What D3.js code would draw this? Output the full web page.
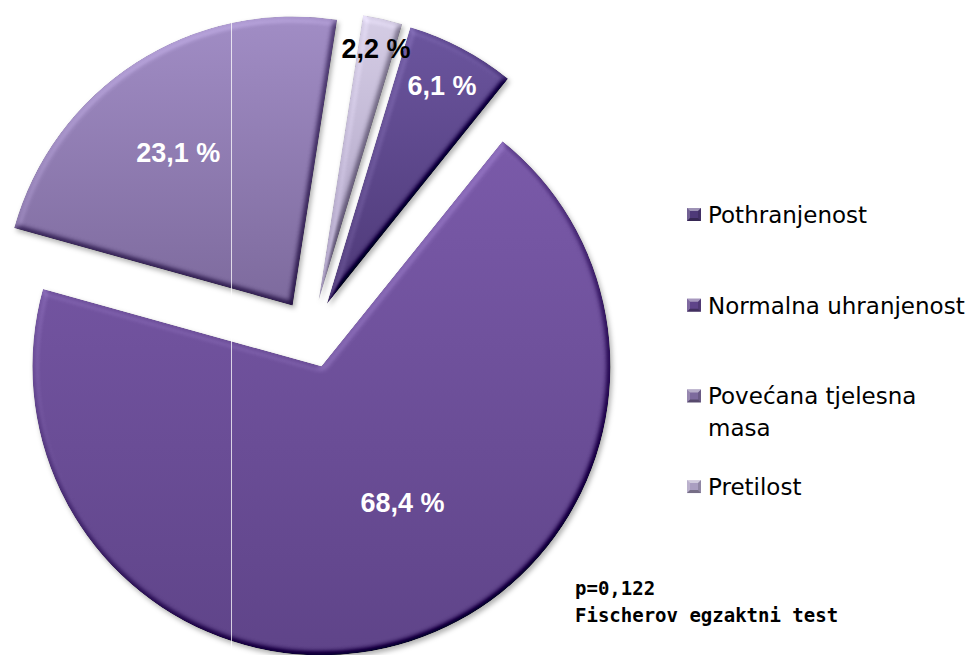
<!DOCTYPE html>
<html>
<head>
<meta charset="utf-8">
<script src="https://cdn.jsdelivr.net/npm/d3@7"></script>
<style>
	html, body {margin: 0; padding: 0; background: #fff;}
	svg {display: block;}
</style>
</head>
<body>
<div id="chart"></div>
<script>

/* data */
var categories = ["Pothranjenost", "Normalna uhranjenost", "Povećana tjelesna masa", "Pretilost"];
var values = [6.1, 68.4, 23.1, 2.2];
var valueLabels = ["6,1 %", "68,4 %", "23,1 %", "2,2 %"];
var noteLines = ["p=0,122", "Fischerov egzaktni test"];

/* looks */
var topColors = ["#6b559e", "#7a5aa9", "#a18dc5", "#d5cde5"];
var bottomColors = ["#4e3978", "#5f4489", "#7d6a9d", "#aa9ec1"];
var labelColors = ["#fff", "#fff", "#fff", "#000"];

var w = 972, h = 655;
var cx = 311, cy = 334, radius = 289, explode = 34;
var startDeg = 16.8;

var svg = d3.select("#chart")
	.append("svg")
	.attr("width", w)
	.attr("height", h);

var defs = svg.append("defs");

// soft bevel + shadow, a rough copy of the office "soft round" look
var bevel = defs.append("filter")
	.attr("id", "bevel")
	.attr("x", "-10%").attr("y", "-10%")
	.attr("width", "125%").attr("height", "125%")
	.attr("color-interpolation-filters", "sRGB");
bevel.append("feGaussianBlur")
	.attr("in", "SourceAlpha").attr("stdDeviation", 3).attr("result", "blur");
bevel.append("feDiffuseLighting")
	.attr("in", "blur").attr("surfaceScale", 5).attr("diffuseConstant", 1)
	.attr("lighting-color", "#fff").attr("result", "light")
	.append("feDistantLight").attr("azimuth", 235).attr("elevation", 55);
bevel.append("feComposite")
	.attr("in", "SourceGraphic").attr("in2", "light").attr("operator", "arithmetic")
	.attr("k1", 0).attr("k2", 1).attr("k3", 0.5).attr("k4", -0.41).attr("result", "lit");
bevel.append("feComposite")
	.attr("in", "lit").attr("in2", "SourceAlpha").attr("operator", "in").attr("result", "litIn");
bevel.append("feGaussianBlur")
	.attr("in", "SourceAlpha").attr("stdDeviation", 2.5).attr("result", "sb");
bevel.append("feOffset")
	.attr("in", "sb").attr("dx", 2).attr("dy", 3).attr("result", "so");
bevel.append("feFlood")
	.attr("flood-color", "#000").attr("flood-opacity", 0.3).attr("result", "sc");
bevel.append("feComposite")
	.attr("in", "sc").attr("in2", "so").attr("operator", "in").attr("result", "shadow");
var merge = bevel.append("feMerge");
merge.append("feMergeNode").attr("in", "shadow");
merge.append("feMergeNode").attr("in", "litIn");

categories.forEach(function(c, i){
	var g = defs.append("linearGradient")
		.attr("id", "grad" + i)
		.attr("x1", 0).attr("y1", 0).attr("x2", 0).attr("y2", 1);
	g.append("stop").attr("offset", "0%").attr("stop-color", topColors[i]);
	g.append("stop").attr("offset", "100%").attr("stop-color", bottomColors[i]);
});

var rad = Math.PI / 180;
var pie = d3.pie()
	.sort(null)
	.value(function(d){ return d.value; })
	.startAngle(startDeg * rad)
	.endAngle(startDeg * rad + 2 * Math.PI);

var arc = d3.arc().innerRadius(0).outerRadius(radius);

var slices = pie(categories.map(function(c, i){
	return {name: c, value: values[i], label: valueLabels[i], idx: i};
}));

var offsetOf = function(d){
	var a = (d.startAngle + d.endAngle) / 2;
	return [explode * Math.sin(a), -explode * Math.cos(a)];
};

var pieG = svg.append("g")
	.attr("transform", "translate(" + cx + "," + cy + ")");

pieG.selectAll("path")
	.data(slices)
	.enter()
	.append("path")
	.attr("d", arc)
	.attr("transform", function(d){ return "translate(" + offsetOf(d).join(",") + ")"; })
	.attr("fill", function(d){ return "url(#grad" + d.data.idx + ")"; })
	.attr("filter", "url(#bevel)");

// where office put each label: fraction of radius and angle nudge
var labelPlace = [{f: 0.855, da: 0}, {f: 0.547, da: -13}, {f: 0.66, da: -4}, {f: 0.896, da: 0}];
var labelSize = 27;

pieG.selectAll("text.val")
	.data(slices)
	.enter()
	.append("text")
	.attr("class", "val")
	.attr("x", function(d){
		var p = labelPlace[d.data.idx];
		var a = (d.startAngle + d.endAngle) / 2 + p.da * rad;
		return offsetOf(d)[0] + p.f * radius * Math.sin(a);
	})
	.attr("y", function(d){
		var p = labelPlace[d.data.idx];
		var a = (d.startAngle + d.endAngle) / 2 + p.da * rad;
		return offsetOf(d)[1] - p.f * radius * Math.cos(a) + labelSize * 0.36;
	})
	.attr("text-anchor", "middle")
	.attr("font-family", "'Liberation Sans', Arial, sans-serif")
	.attr("font-weight", "bold")
	.attr("font-size", labelSize)
	.attr("fill", function(d){ return labelColors[d.data.idx]; })
	.text(function(d){ return d.data.label; });

// thin white scan line that runs through the original picture
svg.append("line")
	.attr("x1", 231.5).attr("x2", 231.5)
	.attr("y1", 0).attr("y2", h)
	.attr("stroke", "#fff")
	.attr("stroke-opacity", 0.75)
	.attr("stroke-width", 1);

/* legend */
var legX = 687, legTextX = 708, legTop = 223, legStep = 90.7, legWrap = 262, lineH = 32;
var legend = svg.append("g");

categories.forEach(function(c, i){
	var base = legTop + i * legStep;
	var mx = legX, my = base - 15, ms = 14, mh = 13, b = 3;
	var mk = legend.append("g");
	mk.append("rect")
		.attr("x", mx).attr("y", my).attr("width", ms).attr("height", mh)
		.attr("fill", bottomColors[i]);
	// little bevel faces on the marker
	var faces = [
		{pts: [[mx, my], [mx + ms, my], [mx + ms - b, my + b], [mx + b, my + b]], c: "rgba(255,255,255,0.45)"},
		{pts: [[mx, my], [mx + b, my + b], [mx + b, my + mh - b], [mx, my + mh]], c: "rgba(255,255,255,0.2)"},
		{pts: [[mx + ms, my], [mx + ms, my + mh], [mx + ms - b, my + mh - b], [mx + ms - b, my + b]], c: "rgba(0,0,0,0.15)"},
		{pts: [[mx, my + mh], [mx + b, my + mh - b], [mx + ms - b, my + mh - b], [mx + ms, my + mh]], c: "rgba(0,0,0,0.3)"}
	];
	mk.selectAll("polygon")
		.data(faces)
		.enter()
		.append("polygon")
		.attr("points", function(d){ return d.pts.map(function(p){ return p.join(","); }).join(" "); })
		.attr("fill", function(d){ return d.c; });

	var t = legend.append("text")
		.attr("x", legTextX)
		.attr("y", base)
		.attr("font-family", "'DejaVu Sans', sans-serif")
		.attr("font-size", 23)
		.attr("fill", "#000");

	// simple word wrap
	var words = c.split(" "), line = [];
	var ts = t.append("tspan").attr("x", legTextX).attr("dy", 0);
	words.forEach(function(wd){
		line.push(wd);
		ts.text(line.join(" "));
		if (ts.node().getComputedTextLength() > legWrap && line.length > 1) {
			line.pop();
			ts.text(line.join(" "));
			line = [wd];
			ts = t.append("tspan").attr("x", legTextX).attr("dy", lineH).text(wd);
		}
	});
});

/* test note */
svg.selectAll("text.note")
	.data(noteLines)
	.enter()
	.append("text")
	.attr("class", "note")
	.attr("x", 575)
	.attr("y", function(d, i){ return 595 + i * 27; })
	.attr("font-family", "'DejaVu Sans Mono', monospace")
	.attr("font-weight", "bold")
	.attr("font-size", 19)
	.attr("fill", "#000")
	.text(function(d){ return d; });

</script>
</body>
</html>
